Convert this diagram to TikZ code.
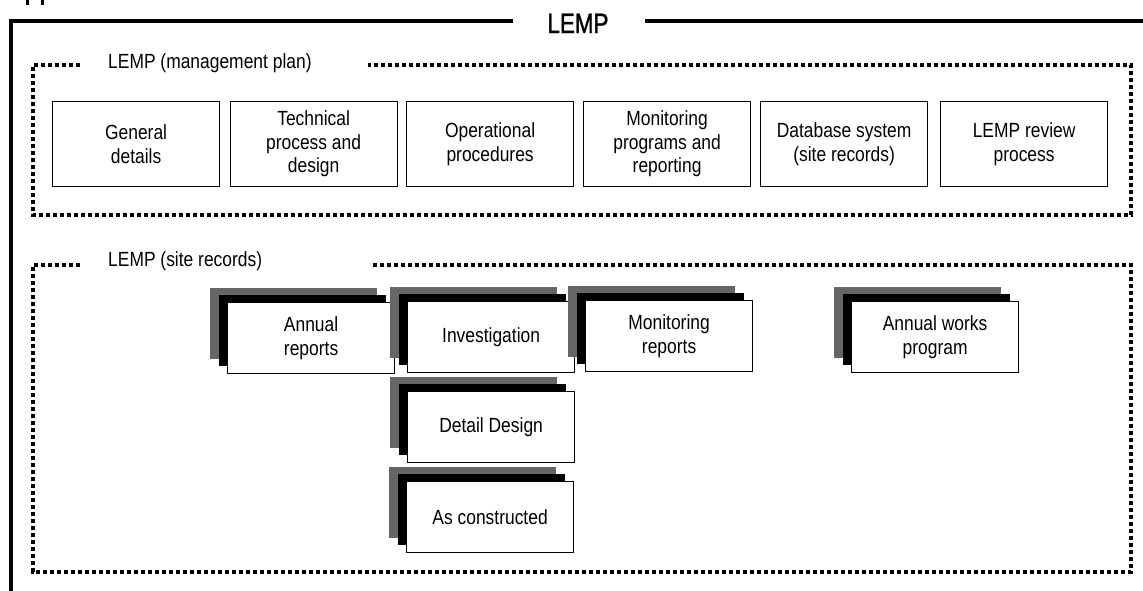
\documentclass[tikz,border=0pt]{standalone}
\usepackage{fontspec}
\setmainfont{Liberation Sans}[FakeStretch=0.85]
\newfontfamily\titlefont{Liberation Sans}[FakeStretch=0.8, FakeBold=1.2]
\definecolor{shadegray}{RGB}{102,102,102}
\tikzset{
  frameline/.style={line width=4pt, line join=miter, line cap=butt},
  dotline/.style={line width=4.4pt, dash pattern=on 4.2pt off 2.8pt, line join=miter},
  boxtext/.style={font=\fontsize{20.5}{23.5}\selectfont},
  planbox/.style={draw, line width=1.2pt, fill=white, minimum width=167pt, minimum height=85pt,
    align=center, inner sep=0pt, boxtext},
  recbox/.style={draw, line width=1.2pt, fill=white, minimum width=167pt, minimum height=71pt,
    align=center, inner sep=0pt, boxtext},
  grouplabel/.style={anchor=base west, inner sep=0pt, boxtext},
  titlelabel/.style={anchor=base, inner sep=0pt, font=\titlefont\fontsize{28}{30}\selectfont}
}
\newcommand{\stackbox}[4]{%
  \fill[shadegray] (#2-17,#3-14) rectangle ++(167,71);
  \fill[black] (#2-8.5,#3-7) rectangle ++(167,71);
  \node[recbox, anchor=north west] (#1) at (#2,#3) {#4};
}
\begin{document}
\begin{tikzpicture}[x=1pt, y=-1pt]
\useasboundingbox (0,0) rectangle (1143,590);
% remnants at top-left
\draw[line width=2.7pt] (27.3,0) -- (27.3,4.7);
\draw[line width=2.7pt] (42.5,0) -- (42.5,4.7);
% outer frame
\node[titlelabel] (title) at (578,33) {LEMP};
\coordinate (fbl) at (11,592);
\coordinate (ftl) at (11,21);
\coordinate (ftm) at (513,21);
\coordinate (ftr1) at (645,21);
\coordinate (ftr2) at (1145,21);
\draw[frameline] (fbl) -- (ftl) -- (ftm);
\draw[frameline] (ftr1) -- (ftr2);
% management plan group
\node[grouplabel] (mplabel) at (108,68) {LEMP (management plan)};
\draw[dotline] (80,65) -- (33,65) -- (33,215) -- (1131,215) -- (1131,65) -- (368,65);
\node[planbox, anchor=north west] (p1) at (52,101) {General\\details};
\node[planbox, anchor=north west] (p2) at (229.5,101) {Technical\\process and\\design};
\node[planbox, anchor=north west] (p3) at (406,101) {Operational\\procedures};
\node[planbox, anchor=north west] (p4) at (583,101) {Monitoring\\programs and\\reporting};
\node[planbox, anchor=north west] (p5) at (760,101) {Database system\\(site records)};
\node[planbox, anchor=north west] (p6) at (940,101) {LEMP review\\process};
% site records group
\node[grouplabel] (srlabel) at (108,266) {LEMP (site records)};
\draw[dotline] (80,265) -- (33,265) -- (33,572) -- (1131,572) -- (1131,265) -- (370,265);
\stackbox{annual}{227}{302}{Annual\\reports}
\stackbox{invest}{407}{301}{Investigation}
\stackbox{monit}{585}{300}{Monitoring\\reports}
\stackbox{detail}{407}{391}{Detail Design}
\stackbox{asbuilt}{406}{481}{As constructed}
\stackbox{works}{851}{301}{Annual works\\program}
\end{tikzpicture}
\end{document}
